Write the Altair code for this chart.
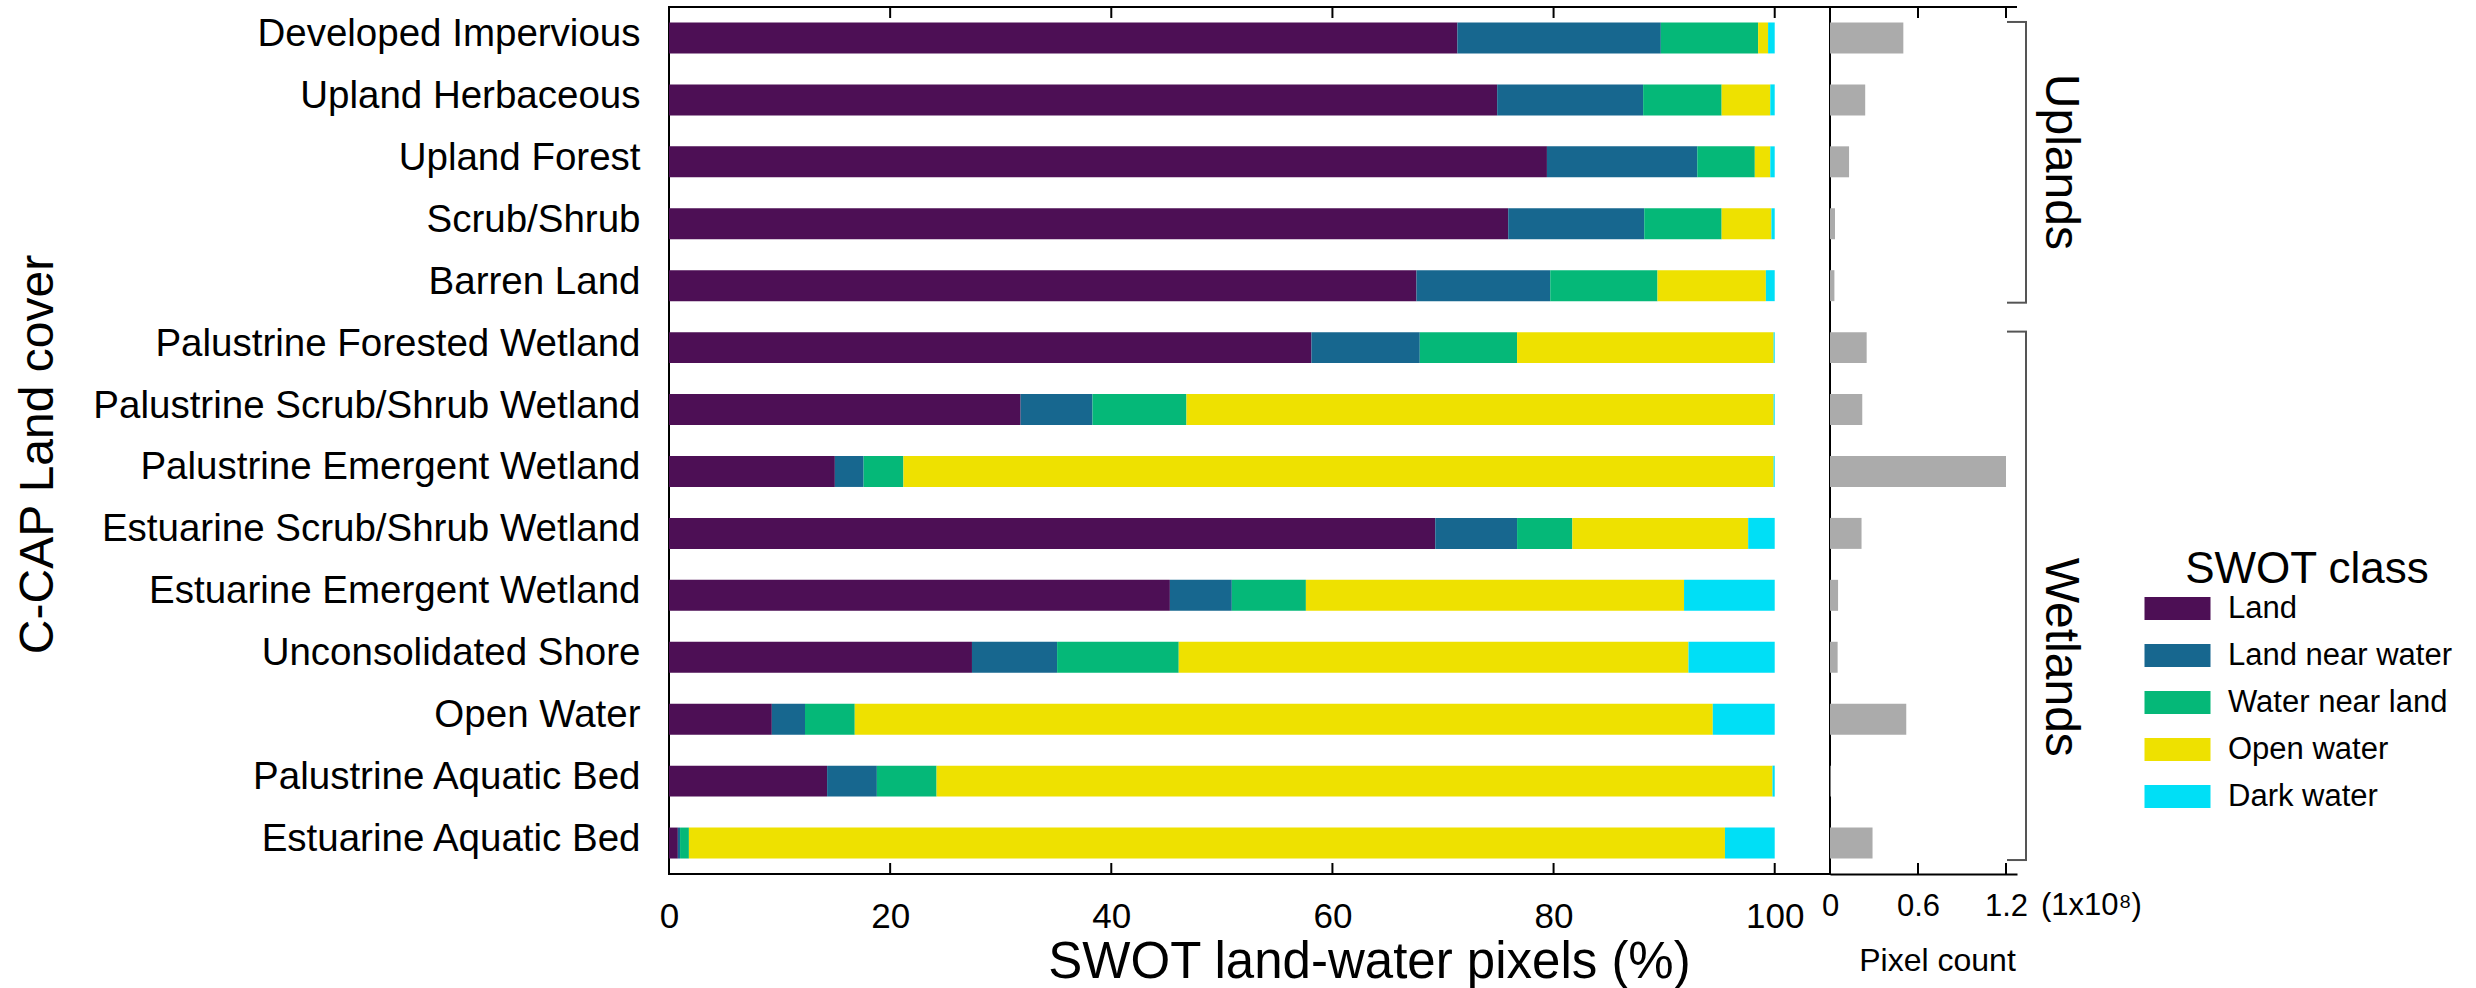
import altair as alt
import pandas as pd

# Land-cover categories, top to bottom
covers = [
    "Developed Impervious", "Upland Herbaceous", "Upland Forest", "Scrub/Shrub",
    "Barren Land", "Palustrine Forested Wetland", "Palustrine Scrub/Shrub Wetland",
    "Palustrine Emergent Wetland", "Estuarine Scrub/Shrub Wetland",
    "Estuarine Emergent Wetland", "Unconsolidated Shore", "Open Water",
    "Palustrine Aquatic Bed", "Estuarine Aquatic Bed",
]

# SWOT classes and their colours
classes = ["Land", "Land near water", "Water near land", "Open water", "Dark water"]
class_colors = ["#4d0f55", "#17678f", "#05b878", "#eee100", "#00dff6"]

# Share of SWOT pixels (%) in each class, per land-cover type
land            = [71.3, 74.9, 79.4, 75.9, 67.6, 58.1, 31.8, 15.0, 69.3, 45.3, 27.4, 9.3, 14.3, 0.8]
land_near_water = [18.4, 13.2, 13.6, 12.3, 12.1, 9.8, 6.5, 2.6, 7.4, 5.6, 7.7, 3.0, 4.5, 0.2]
water_near_land = [8.8, 7.1, 5.2, 7.0, 9.7, 8.8, 8.5, 3.6, 5.0, 6.7, 11.0, 4.5, 5.4, 0.8]
open_water      = [0.9, 4.4, 1.4, 4.5, 9.8, 23.2, 53.1, 78.7, 15.9, 34.2, 46.1, 77.6, 75.6, 93.7]
dark_water      = [0.6, 0.4, 0.4, 0.3, 0.8, 0.1, 0.1, 0.1, 2.4, 8.2, 7.8, 5.6, 0.2, 4.5]

# Total pixel count per land-cover type (units of 1e8 pixels)
pixel_count = [0.50, 0.24, 0.13, 0.034, 0.03, 0.25, 0.22, 1.20, 0.215, 0.055, 0.052, 0.52, 0.005, 0.29]

# Axis ticks
pct_ticks = [0, 20, 40, 60, 80, 100]
count_ticks = [0, 0.6, 1.2]

# Land-cover groups shown with brackets
groups = ["Uplands", "Wetlands"]
group_first = ["Developed Impervious", "Palustrine Forested Wetland"]
group_last = ["Barren Land", "Estuarine Aquatic Bed"]
group_label_at = ["Upland Forest", "Unconsolidated Shore"]

FONT = "Liberation Sans"
W_MAIN, W_COUNT, H = 1161, 187, 867
TICK = 11
LINE = 2

series = [land, land_near_water, water_near_land, open_water, dark_water]
share = pd.DataFrame([
    {"cover": c, "swot_class": cls, "pct": vals[i], "order": j}
    for i, c in enumerate(covers)
    for j, (cls, vals) in enumerate(zip(classes, series))
])
counts = pd.DataFrame({"cover": covers, "count": pixel_count})
pct_tick_df = pd.DataFrame({"pct": pct_ticks})
count_tick_df = pd.DataFrame({"count": count_ticks})
group_df = pd.DataFrame({"group": groups, "first": group_first,
                         "last": group_last, "label_at": group_label_at})


def y_scale():
    return alt.Scale(domain=covers, paddingInner=0.5, paddingOuter=0.25)


pct_scale = alt.Scale(domain=[0, 105], nice=False, zero=True)
count_scale = alt.Scale(domain=[0, 1.275], nice=False, zero=True)

pct_axis = alt.Axis(values=pct_ticks, domain=False, ticks=False, tickSize=0, grid=False,
                    labelFontSize=35, labelPadding=42, labelBaseline="middle",
                    labelFlush=False, labelColor="black",
                    title="SWOT land-water pixels (%)", titleFontSize=51,
                    titleFontWeight="normal", titleColor="black",
                    titleX=700, titleY=88, titleBaseline="middle", titleAlign="center")

count_axis = alt.Axis(values=count_ticks, format=".1~f", domain=True, domainColor="black",
                      domainWidth=LINE, ticks=False, tickSize=0, grid=False,
                      labelFontSize=31, labelPadding=32, labelBaseline="middle",
                      labelFlush=False, labelColor="black",
                      title="Pixel count", titleFontSize=32, titleFontWeight="normal",
                      titleColor="black", titleX=107, titleY=86,
                      titleBaseline="middle", titleAlign="center")

# ---- stacked class shares ----
bars = alt.Chart(share).mark_bar().encode(
    x=alt.X("pct:Q", stack="zero", scale=pct_scale, axis=pct_axis),
    y=alt.Y("cover:N", scale=y_scale(),
            axis=alt.Axis(domain=False, ticks=False, tickSize=0, grid=False,
                          labelFontSize=38.5, labelPadding=29, labelLimit=800, labelOffset=-4,
                          labelColor="black",
                          title="C-CAP Land cover", titleFontSize=48, titleFontWeight="normal",
                          titleColor="black", titleX=-631, titleY=447, titleAngle=270,
                          titleBaseline="middle", titleAlign="center")),
    color=alt.Color("swot_class:N",
                    scale=alt.Scale(domain=classes, range=class_colors),
                    legend=alt.Legend(orient="none", legendX=1492, legendY=541,
                                      title="SWOT class", titleFontSize=44,
                                      titleFontWeight="normal", titleColor="black",
                                      titleAnchor="middle", titlePadding=0, titleLimit=600,
                                      labelFontSize=31, labelColor="black", labelLimit=500,
                                      labelOffset=34,
                                      symbolType="M-2,-0.7H2V0.7H-2Z", symbolSize=1089,
                                      symbolStrokeWidth=0, symbolOpacity=1, rowPadding=15)),
    order=alt.Order("order:Q", sort="ascending"),
)

# inward ticks on the bottom and top frame of the share panel
pct_bottom = alt.Chart(pct_tick_df).mark_rule(color="black", strokeWidth=LINE).encode(
    x=alt.X("pct:Q", scale=pct_scale, axis=pct_axis),
    y=alt.value(H), y2=alt.value(H - TICK))
pct_top = alt.Chart(pct_tick_df).mark_rule(color="black", strokeWidth=LINE).encode(
    x=alt.X("pct:Q", scale=pct_scale, axis=pct_axis),
    y=alt.value(0), y2=alt.value(TICK))

main = alt.layer(bars, pct_bottom, pct_top).properties(
    width=W_MAIN, height=H,
    view=alt.ViewBackground(stroke="black", strokeWidth=LINE))

# ---- pixel count panel ----
count_bars = alt.Chart(counts).mark_bar(color="#ababab").encode(
    x=alt.X("count:Q", scale=count_scale, axis=count_axis),
    y=alt.Y("cover:N", scale=y_scale(), axis=None),
)
count_bottom = alt.Chart(count_tick_df).mark_rule(color="black", strokeWidth=LINE).encode(
    x=alt.X("count:Q", scale=count_scale, axis=count_axis),
    y=alt.value(H), y2=alt.value(H - TICK))
count_top = alt.Chart(count_tick_df).mark_rule(color="black", strokeWidth=LINE).encode(
    x=alt.X("count:Q", scale=count_scale, axis=count_axis),
    y=alt.value(0), y2=alt.value(TICK))
count_top_line = alt.Chart(pd.DataFrame({"k": [0]})).mark_rule(
    color="black", strokeWidth=LINE).encode(
    x=alt.value(0), x2=alt.value(W_COUNT), y=alt.value(0))
exponent = alt.Chart(pd.DataFrame({"txt": ["(1x10\u2078)"]})).mark_text(
    align="left", baseline="middle", fontSize=31, color="black").encode(
    x=alt.value(211), y=alt.value(899), text="txt:N")

# group brackets and labels
BR = "#555555"
bracket_v = alt.Chart(group_df).mark_rule(
    color=BR, strokeWidth=LINE, yOffset=-16, y2Offset=17).encode(
    x=alt.value(196),
    y=alt.Y("first:N", scale=y_scale(), axis=None),
    y2=alt.Y2("last:N"))
bracket_top = alt.Chart(group_df).mark_rule(
    color=BR, strokeWidth=LINE, yOffset=-16).encode(
    x=alt.value(177), x2=alt.value(197),
    y=alt.Y("first:N", scale=y_scale(), axis=None))
bracket_bottom = alt.Chart(group_df).mark_rule(
    color=BR, strokeWidth=LINE, yOffset=17).encode(
    x=alt.value(177), x2=alt.value(197),
    y=alt.Y("last:N", scale=y_scale(), axis=None))
group_text = alt.Chart(group_df).mark_text(
    angle=90, fontSize=48, align="center", baseline="middle", color="black").encode(
    x=alt.value(230),
    y=alt.Y("label_at:N", scale=y_scale(), axis=None),
    text="group:N")

count_panel = alt.layer(
    count_bars, count_bottom, count_top, count_top_line, exponent,
    bracket_v, bracket_top, bracket_bottom, group_text,
).properties(width=W_COUNT, height=H)

chart = alt.hconcat(main, count_panel, spacing=0, bounds="flush").properties(
    padding={"left": 13, "top": 5, "right": 10, "bottom": 3}
).configure(font=FONT).configure_view(stroke="transparent")

chart.save("out.html", embed_options={"renderer": "svg", "actions": False})
